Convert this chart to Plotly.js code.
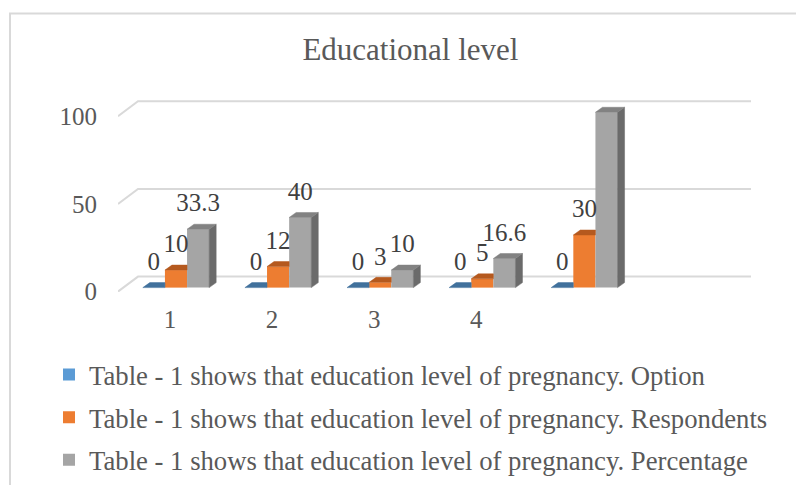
<!DOCTYPE html>
<html>
<head>
<meta charset="utf-8">
<script src="https://cdn.plot.ly/plotly-3.0.1.min.js"></script>
<style>html,body{margin:0;padding:0;background:#fff;}#chart{width:796px;height:485px;}</style>
</head>
<body>
<div id="chart"></div>
<script>
// ---- data ----
const categories = ['1', '2', '3', '4', ''];
const optionVals = [0, 0, 0, 0, 0];
const respondentVals = [10, 12, 3, 5, 30];
const percentageVals = [33.3, 40, 10, 16.6, 100];
const seriesNames = [
  'Table - 1 shows that education level of pregnancy. Option',
  'Table - 1 shows that education level of pregnancy. Respondents',
  'Table - 1 shows that education level of pregnancy. Percentage'
];
const yTicks = [0, 50, 100];

// ---- style / geometry ----
const frontColors = ['#5B9BD5', '#ED7D31', '#A5A5A5'];
const topColors = ['#41719C', '#B5591E', '#828282'];
const sideColors = ['#3A6A94', '#A04D18', '#6B6B6B'];
const PX_X = 102.1, PX_Y = 1.753;
const BAR_W = 0.65 / 3;
const DX = 7 / PX_X, DY = 5 / PX_Y;
const FLOOR_FRONT = -4 / PX_Y, FLOOR_BACK = 11 / PX_Y;
const X_FRONT_LEFT = -0.568, X_BACK_LEFT = -0.372, X_BACK_RIGHT = 5.632;
const LABEL_OFF = 24 / PX_Y;
const textFont = 'Liberation Serif, Times New Roman, serif';

const allSeries = [optionVals, respondentVals, percentageVals];
const idx = categories.map((c, i) => i);

const traces = [];
// front faces (bars)
allSeries.forEach((vals, k) => {
  traces.push({
    type: 'bar', name: seriesNames[k], x: idx, y: vals,
    width: BAR_W, offset: (k - 1.5) * BAR_W,
    marker: {color: frontColors[k], line: {width: 0}},
    legendgroup: 'g' + k
  });
});
// top & side faces
allSeries.forEach((vals, k) => {
  const tx = [], ty = [], sx = [], sy = [];
  vals.forEach((v, i) => {
    const x0 = i + (k - 1.5) * BAR_W, x1 = x0 + BAR_W;
    const next = allSeries[k + 1];
    const hidden = next && next[i] > v;
    if (hidden) {
      tx.push(x0, x1, x1, x0 + DX, x0, null);
      ty.push(v, v, v + DY, v + DY, v, null);
    } else {
      tx.push(x0, x1, x1 + DX, x0 + DX, x0, null);
      ty.push(v, v, v + DY, v + DY, v, null);
      sx.push(x1, x1, x1 + DX, x1 + DX, x1, null);
      sy.push(0, v, v + DY, DY, 0, null);
    }
  });
  if (sx.length) traces.push({type: 'scatter', mode: 'lines', x: sx, y: sy, fill: 'toself',
    fillcolor: sideColors[k], line: {width: 0.5, color: sideColors[k]}, showlegend: false, hoverinfo: 'skip'});
  traces.push({type: 'scatter', mode: 'lines', x: tx, y: ty, fill: 'toself',
    fillcolor: topColors[k], line: {width: 0.5, color: topColors[k]}, showlegend: false, hoverinfo: 'skip'});
});
// data labels
allSeries.forEach((vals, k) => {
  traces.push({
    type: 'scatter', mode: 'text',
    x: idx.map(i => i + (k - 1) * BAR_W),
    y: vals.map(v => v + LABEL_OFF),
    text: vals.map(v => String(v)),
    textposition: 'middle center',
    textfont: {family: textFont, size: 25, color: '#404040'},
    cliponaxis: false, showlegend: false, hoverinfo: 'skip'
  });
});

// back-wall gridlines
const shapes = yTicks.map(v => ({
  type: 'path', xref: 'x', yref: 'y', layer: 'below',
  path: 'M' + X_FRONT_LEFT + ',' + (v + FLOOR_FRONT) + ' L' + X_BACK_LEFT + ',' + (v + FLOOR_BACK) +
        ' L' + X_BACK_RIGHT + ',' + (v + FLOOR_BACK),
  line: {color: '#D9D9D9', width: 2}
}));
// chart frame
shapes.push({type: 'rect', xref: 'paper', yref: 'paper', x0: -0.1706, x1: 1.3, y0: -1.2, y1: 1.45,
  line: {color: '#D9D9D9', width: 2}, layer: 'below'});

const layout = {
  width: 796, height: 485,
  margin: {l: 118, r: 45, t: 100, b: 193, pad: 0, autoexpand: false},
  paper_bgcolor: '#fff', plot_bgcolor: 'rgba(0,0,0,0)',
  title: {text: 'Educational level', x: 410.4 / 796, xref: 'container', xanchor: 'center',
    y: 1 - 49 / 485, yref: 'container', yanchor: 'middle',
    font: {family: textFont, size: 31, color: '#595959'}},
  barmode: 'overlay',
  hovermode: false,
  showlegend: true,
  legend: {x: -0.109, xanchor: 'left', y: -0.305, yanchor: 'top', orientation: 'v',
    font: {family: textFont, size: 26.7, color: '#595959'}, bgcolor: 'rgba(0,0,0,0)', tracegroupgap: 5},
  xaxis: {range: [X_FRONT_LEFT, X_BACK_RIGHT], tickvals: idx, ticktext: categories,
    showgrid: false, zeroline: false, showline: false, ticks: '', automargin: false,
    ticklabelshift: -6, ticklabelstandoff: 10,
    tickfont: {family: textFont, size: 25, color: '#595959'}},
  yaxis: {range: [-2.5, 107], tickvals: yTicks, showgrid: false, zeroline: false, showline: false, ticks: '',
    automargin: false, ticklabelshift: 4, ticklabelstandoff: 20,
    tickfont: {family: textFont, size: 25, color: '#595959'}},
  shapes: shapes
};

Plotly.newPlot('chart', traces, layout, {staticPlot: true, displayModeBar: false});
</script>
</body>
</html>
